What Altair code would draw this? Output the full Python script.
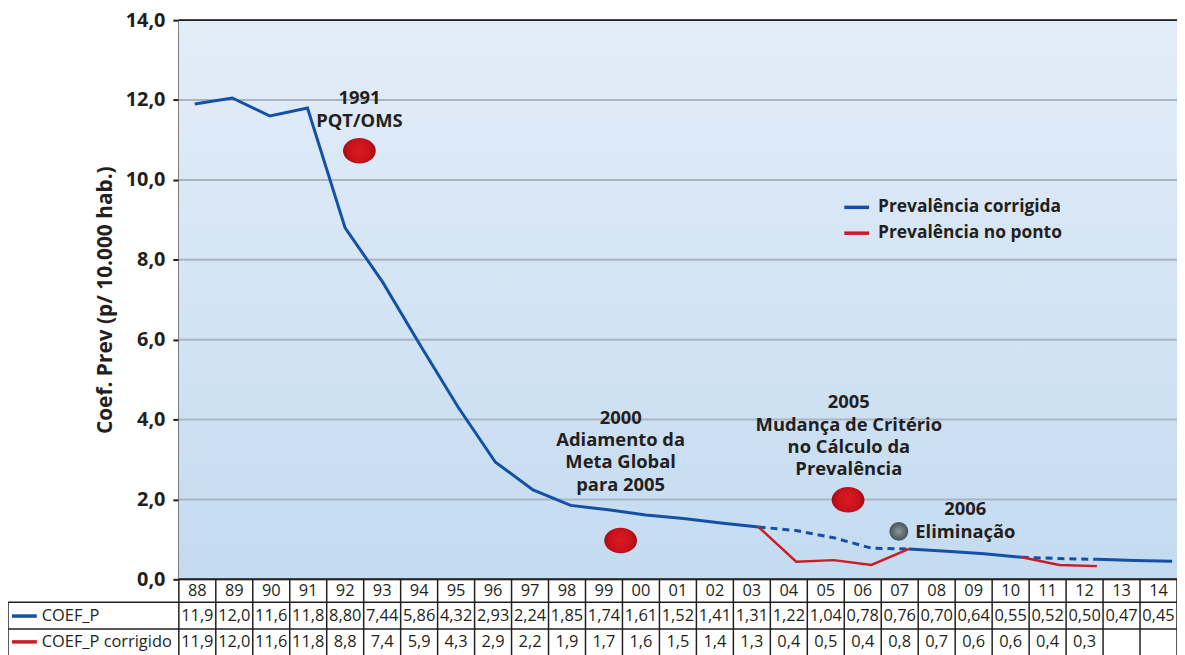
import altair as alt
import pandas as pd

# ---------------- data ----------------
years = ["88", "89", "90", "91", "92", "93", "94", "95", "96", "97", "98", "99", "00",
         "01", "02", "03", "04", "05", "06", "07", "08", "09", "10", "11", "12", "13", "14"]
coef_p = [11.9, 12.05, 11.6, 11.8, 8.80, 7.44, 5.86, 4.32, 2.93, 2.24, 1.85, 1.74, 1.61,
          1.52, 1.41, 1.31, 1.22, 1.04, 0.78, 0.76, 0.70, 0.64, 0.55, 0.52, 0.50, 0.47, 0.45]
# segments of the corrected prevalence line (solid / dashed)
solid_segments = [("88", "03"), ("07", "10"), ("12", "14")]
dashed_segments = [("03", "07"), ("10", "12")]
# point prevalence (red) line as drawn
red_years_a = ["03", "04", "05", "06", "07"]
red_vals_a = [1.31, 0.44, 0.48, 0.36, 0.76]
red_years_b = ["10", "11", "12"]
red_vals_b = [0.55, 0.36, 0.33]

# table rows
row_coef = ["11,9", "12,0", "11,6", "11,8", "8,80", "7,44", "5,86", "4,32", "2,93", "2,24", "1,85",
            "1,74", "1,61", "1,52", "1,41", "1,31", "1,22", "1,04", "0,78", "0,76", "0,70", "0,64",
            "0,55", "0,52", "0,50", "0,47", "0,45"]
row_corr = ["11,9", "12,0", "11,6", "11,8", "8,8", "7,4", "5,9", "4,3", "2,9", "2,2", "1,9",
            "1,7", "1,6", "1,5", "1,4", "1,3", "0,4", "0,5", "0,4", "0,8", "0,7", "0,6",
            "0,6", "0,4", "0,3", "", ""]

y_ticks = [0, 2, 4, 6, 8, 10, 12, 14]

ann_text = ["1991\nPQT/OMS", "2000\nAdiamento da\nMeta Global\npara 2005",
            "2005\nMudança de Critério\nno Cálculo da\nPrevalência", "2006\nEliminação"]
ann_x = [4.38, 11.33, 17.40, 20.50]
ann_y = [12.04, 4.05, 4.43, 1.75]   # first line of each block
red_dot_x = [4.38, 11.33, 17.38]
red_dot_y = [10.73, 0.97, 1.99]
gray_dot_x = [18.73]
gray_dot_y = [1.20]

series_names = ["Prevalência corrigida", "Prevalência no ponto"]
BLUE = "#1450a6"
RED = "#cc1b27"
TXT = "#231f20"
FONT = "Open Sans"

W, H = 1005, 563

# ---------------- frames ----------------
rows = []
for k, (a, b) in enumerate(solid_segments):
    for i in range(years.index(a), years.index(b) + 1):
        rows.append({"i": i, "v": coef_p[i], "seg": f"s{k}", "series": series_names[0]})
solid_df = pd.DataFrame(rows)
rows = []
for k, (a, b) in enumerate(dashed_segments):
    for i in range(years.index(a), years.index(b) + 1):
        rows.append({"i": i, "v": coef_p[i], "seg": f"d{k}", "series": series_names[0]})
dashed_df = pd.DataFrame(rows)
rows = []
for yy, vv in zip(red_years_a, red_vals_a):
    rows.append({"i": years.index(yy), "v": vv, "seg": "ra", "series": series_names[1]})
for yy, vv in zip(red_years_b, red_vals_b):
    rows.append({"i": years.index(yy), "v": vv, "seg": "rb", "series": series_names[1]})
red_df = pd.DataFrame(rows)

xs = alt.Scale(domain=[-0.423, 26.13], nice=False, zero=False)
ys = alt.Scale(domain=[0, 14], nice=False, zero=True)
color_scale = alt.Scale(domain=series_names, range=[BLUE, RED])

one = pd.DataFrame({"a": [0]})

bg = alt.Chart(one).mark_rect(
    color=alt.LinearGradient(
        gradient="linear", x1=0, x2=0, y1=0, y2=1,
        stops=[alt.GradientStop(offset=0, color="#e3edf8"),
               alt.GradientStop(offset=1, color="#c4dbf0")])
).encode(x=alt.value(0), x2=alt.value(W), y=alt.value(0), y2=alt.value(H))

grid = alt.Chart(pd.DataFrame({"v": y_ticks})).mark_rule(color="#a9b5c1", strokeWidth=2).encode(
    y=alt.Y("v:Q", scale=ys, axis=alt.Axis(
        values=y_ticks,
        labelExpr="replace(format(datum.value, '.1f'), '.', ',')",
        title="Coef. Prev (p/ 10.000 hab.)",
        grid=False, domainColor=TXT, domainWidth=2, tickColor=TXT, tickWidth=2, tickSize=6,
        labelFont=FONT, labelFontSize=20, labelFontWeight="bold", labelColor=TXT, labelPadding=8,
        titleFont=FONT, titleFontSize=21, titleFontWeight="bold", titleColor=TXT,
        titleAngle=-90, titleX=-74, titleY=H / 2, titleAlign="center", titleBaseline="middle")),
    x=alt.value(0), x2=alt.value(W))

frame = alt.Chart(pd.DataFrame({"p": [0, H]})).mark_rule(color=TXT, strokeWidth=2).encode(
    y=alt.Y("p:Q", scale=None), x=alt.value(0), x2=alt.value(W))

blue_solid = alt.Chart(solid_df).mark_line(strokeWidth=3).encode(
    x=alt.X("i:Q", scale=xs, axis=None),
    y=alt.Y("v:Q", scale=ys),
    detail="seg:N",
    color=alt.Color("series:N", scale=color_scale, legend=alt.Legend(
        title=None, orient="none", legendX=668, legendY=174, symbolType="stroke",
        symbolSize=625, symbolStrokeWidth=3.5, labelFont=FONT, labelFontSize=17.5,
        labelFontWeight="bold", labelColor=TXT, labelOffset=7, rowPadding=3, padding=0,
        labelLimit=0)))

blue_dashed = alt.Chart(dashed_df).mark_line(strokeWidth=3, strokeDash=[7, 5]).encode(
    x=alt.X("i:Q", scale=xs, axis=None), y=alt.Y("v:Q", scale=ys), detail="seg:N",
    color=alt.Color("series:N", scale=color_scale))

red_line = alt.Chart(red_df).mark_line(strokeWidth=2.5).encode(
    x=alt.X("i:Q", scale=xs, axis=None), y=alt.Y("v:Q", scale=ys), detail="seg:N",
    color=alt.Color("series:N", scale=color_scale))

ellipse = "M -1 0 A 1 0.78 0 1 0 1 0 A 1 0.78 0 1 0 -1 0 Z"
red_dots = alt.Chart(pd.DataFrame({"x": red_dot_x, "y": red_dot_y})).mark_point(
    shape=ellipse, size=1089, filled=True, opacity=1, strokeWidth=0,
    fill=alt.RadialGradient(gradient="radial", stops=[
        alt.GradientStop(offset=0, color="#dc1a22"),
        alt.GradientStop(offset=0.7, color="#c8111b"),
        alt.GradientStop(offset=1, color="#9e0a12")])
).encode(x=alt.X("x:Q", scale=xs, axis=None), y=alt.Y("y:Q", scale=ys))

gray_dots = alt.Chart(pd.DataFrame({"x": gray_dot_x, "y": gray_dot_y})).mark_point(
    shape="circle", size=361, filled=True, opacity=1, strokeWidth=0,
    fill=alt.RadialGradient(gradient="radial", stops=[
        alt.GradientStop(offset=0, color="#8c989f"),
        alt.GradientStop(offset=1, color="#47535b")])
).encode(x=alt.X("x:Q", scale=xs, axis=None), y=alt.Y("y:Q", scale=ys))

ann = alt.Chart(pd.DataFrame({"x": ann_x, "y": ann_y, "t": ann_text})).mark_text(
    font=FONT, fontSize=18.5, fontWeight="bold", color=TXT, lineBreak="\n", lineHeight=22.5,
    align="center", baseline="middle"
).encode(x=alt.X("x:Q", scale=xs, axis=None), y=alt.Y("y:Q", scale=ys), text="t:N")

plot = alt.layer(bg, grid, frame, blue_solid, blue_dashed, red_line, red_dots, gray_dots, ann)

# ---------------- table ----------------
ts = alt.Scale(domain=[-0.5, 26.5], nice=False, zero=False)
tab_df = pd.DataFrame({"i": list(range(len(years))), "yr": years, "c1": row_coef, "c2": row_corr})

TFS = 16.5

def tab_text(field, ypix):
    return alt.Chart(tab_df).mark_text(font=FONT, fontSize=TFS, color=TXT, align="center",
                                       baseline="middle").encode(
        x=alt.X("i:Q", scale=ts, axis=None), y=alt.value(ypix), text=f"{field}:N")

t_years = tab_text("yr", H + 12)
t_c1 = tab_text("c1", H + 37)
t_c2 = tab_text("c2", H + 63)

bounds = pd.DataFrame({"b": [k - 0.5 for k in range(len(years) + 1)]})
vlines = alt.Chart(bounds).mark_rule(color=TXT, strokeWidth=1.5).encode(
    x=alt.X("b:Q", scale=ts, axis=None), y=alt.value(H), y2=alt.value(H + 80))

hl = pd.DataFrame({"p": [H + 23, H + 50]})
hlines = alt.Chart(hl).mark_rule(color=TXT, strokeWidth=1.5).encode(
    y=alt.Y("p:Q", scale=None), x=alt.value(-172), x2=alt.value(W))
left_edge = alt.Chart(one).mark_rule(color=TXT, strokeWidth=1.5).encode(
    x=alt.value(-172), y=alt.value(H + 23), y2=alt.value(H + 80))

key_df = pd.DataFrame({"lab": ["COEF_P", "COEF_P corrigido"], "s": series_names,
                       "p": [H + 37, H + 63]})
key_lines = alt.Chart(key_df).mark_rule(strokeWidth=3.5).encode(
    y=alt.Y("p:Q", scale=None), x=alt.value(-168), x2=alt.value(-143),
    color=alt.Color("s:N", scale=color_scale, legend=None))
key_text = alt.Chart(key_df).mark_text(font=FONT, fontSize=TFS, color=TXT, align="left",
                                       baseline="middle").encode(
    y=alt.Y("p:Q", scale=None), x=alt.value(-138), text="lab:N")

table = alt.layer(vlines, hlines, left_edge, key_lines, key_text, t_years, t_c1, t_c2)

chart = alt.layer(plot, table).resolve_scale(x="independent").properties(
    width=W, height=H,
    autosize=alt.AutoSizeParams(type="none"),
    padding={"left": 172, "top": 10, "right": 0, "bottom": 74},
    background="white",
).configure_view(stroke=None)

chart.save("out.html", embed_options={"renderer": "svg", "actions": False})
